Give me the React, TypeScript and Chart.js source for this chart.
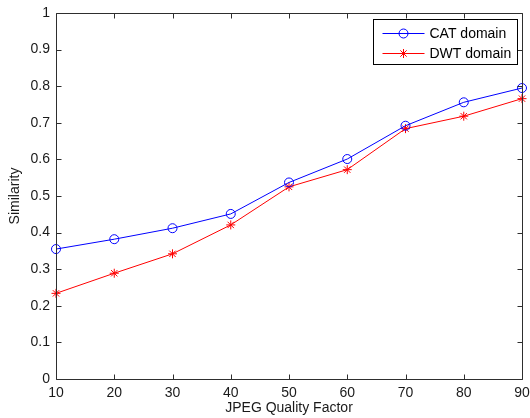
import React, { useEffect, useRef } from "react";
import { Chart, registerables } from "chart.js";

Chart.register(...registerables);

const qualityFactors = [10, 20, 30, 40, 50, 60, 70, 80, 90];
const catDomain = [0.355, 0.382, 0.412, 0.451, 0.537, 0.601, 0.692, 0.756, 0.795];
const dwtDomain = [0.234, 0.289, 0.342, 0.421, 0.525, 0.572, 0.684, 0.718, 0.766];
const seriesLabels = ["CAT domain", "DWT domain"];
const seriesColors = ["#0000ff", "#ff0000"];
const seriesMarkers = ["circle", "star"];
const xTicks = [10, 20, 30, 40, 50, 60, 70, 80, 90];
const yTicks = [0, 0.1, 0.2, 0.3, 0.4, 0.5, 0.6, 0.7, 0.8, 0.9, 1];
const xTitle = "JPEG Quality Factor";
const yTitle = "Similarity";

const FONT = "'Liberation Sans', Arial, Helvetica, sans-serif";
const AXIS_COLOR = "#2e2e2e";

function drawMarker(ctx: CanvasRenderingContext2D, style: string, x: number, y: number, r: number) {
  ctx.beginPath();
  if (style === "circle") {
    ctx.arc(x, y, r, 0, Math.PI * 2);
  } else {
    ctx.moveTo(x - r, y);
    ctx.lineTo(x + r, y);
    ctx.moveTo(x, y - r);
    ctx.lineTo(x, y + r);
    const d = r * Math.SQRT1_2;
    ctx.moveTo(x - d, y - d);
    ctx.lineTo(x + d, y + d);
    ctx.moveTo(x - d, y + d);
    ctx.lineTo(x + d, y - d);
  }
  ctx.stroke();
}

const framePlugin = {
  id: "matlabFrame",
  afterDatasetsDraw(chart: any) {
    const { ctx, chartArea } = chart;
    const { left, right, top, bottom } = chartArea;
    const xs = chart.scales.x;
    const ys = chart.scales.y;
    const L = Math.round(left) + 0.5;
    const R = Math.round(right) + 0.5;
    const T = Math.round(top) + 0.5;
    const B = Math.round(bottom) + 0.5;
    ctx.save();
    ctx.strokeStyle = AXIS_COLOR;
    ctx.lineWidth = 1;
    ctx.beginPath();
    ctx.rect(L, T, R - L, B - T);
    ctx.stroke();
    const tl = 5;
    ctx.beginPath();
    xTicks.forEach((v) => {
      const px = Math.round(xs.getPixelForValue(v)) + 0.5;
      ctx.moveTo(px, B);
      ctx.lineTo(px, B - tl);
      ctx.moveTo(px, T);
      ctx.lineTo(px, T + tl);
    });
    yTicks.forEach((v) => {
      const py = Math.round(ys.getPixelForValue(v)) + 0.5;
      ctx.moveTo(L, py);
      ctx.lineTo(L + tl, py);
      ctx.moveTo(R, py);
      ctx.lineTo(R - tl, py);
    });
    ctx.stroke();

    // legend box
    const bx = Math.round(right) - 149 + 0.5;
    const by = Math.round(top) + 6 + 0.5;
    const bw = 144;
    const bh = 45;
    ctx.fillStyle = "#ffffff";
    ctx.fillRect(bx, by, bw, bh);
    ctx.strokeStyle = "#000000";
    ctx.strokeRect(bx, by, bw, bh);
    ctx.font = `14px ${FONT}`;
    ctx.textBaseline = "middle";
    ctx.textAlign = "left";
    seriesLabels.forEach((label, i) => {
      const cy = Math.round(by + 13 + i * 20) + 0.5;
      ctx.strokeStyle = seriesColors[i];
      ctx.lineWidth = 1;
      ctx.beginPath();
      ctx.moveTo(bx + 9, cy);
      ctx.lineTo(bx + 51, cy);
      ctx.stroke();
      drawMarker(ctx, seriesMarkers[i], bx + 30, cy, 4.5);
      ctx.fillStyle = "#000000";
      ctx.fillText(label, bx + 56, cy + 1);
    });
    ctx.restore();
  },
};

export default function App() {
  const canvasRef = useRef<HTMLCanvasElement | null>(null);

  useEffect(() => {
    const canvas = canvasRef.current;
    if (!canvas) return;
    const chart = new Chart(canvas, {
      type: "line",
      data: {
        datasets: [catDomain, dwtDomain].map((vals, i) => ({
          label: seriesLabels[i],
          data: qualityFactors.map((q, j) => ({ x: q, y: vals[j] })),
          borderColor: seriesColors[i],
          backgroundColor: "rgba(0,0,0,0)",
          borderWidth: 1,
          pointStyle: seriesMarkers[i] as any,
          pointRadius: 4.5,
          pointBorderWidth: 1,
          pointBorderColor: seriesColors[i],
          pointBackgroundColor: "rgba(0,0,0,0)",
          tension: 0,
          clip: false as any,
        })),
      },
      options: {
        responsive: false,
        animation: false,
        events: [],
        layout: { padding: { top: 13, right: 8, left: 0, bottom: 0 } },
        plugins: {
          legend: { display: false },
          tooltip: { enabled: false },
        },
        scales: {
          x: {
            type: "linear",
            min: 10,
            max: 90,
            afterBuildTicks: (s: any) => {
              s.ticks = xTicks.map((v) => ({ value: v }));
            },
            afterFit: (s: any) => {
              s.height = 39;
              s.paddingLeft = 0;
              s.paddingRight = 0;
            },
            grid: { display: false, drawTicks: false },
            border: { display: false },
            ticks: {
              padding: 6,
              color: "#1a1a1a",
              font: { family: FONT, size: 14 },
              maxRotation: 0,
              autoSkip: false,
            },
            title: {
              display: true,
              text: xTitle,
              color: "#1a1a1a",
              font: { family: FONT, size: 14 },
              padding: { top: 0, bottom: 1 },
            },
          },
          y: {
            type: "linear",
            min: 0,
            max: 1,
            afterBuildTicks: (s: any) => {
              s.ticks = yTicks.map((v) => ({ value: v }));
            },
            afterFit: (s: any) => {
              s.width = 56;
              s.paddingTop = 0;
              s.paddingBottom = 0;
            },
            grid: { display: false, drawTicks: false },
            border: { display: false },
            ticks: {
              padding: 6,
              color: "#1a1a1a",
              font: { family: FONT, size: 14 },
              autoSkip: false,
              callback: (v: any) => String(Math.round(Number(v) * 10) / 10),
            },
            title: {
              display: true,
              text: yTitle,
              color: "#1a1a1a",
              font: { family: FONT, size: 14 },
              padding: { top: 7, bottom: 0 },
            },
          },
        },
      },
      plugins: [framePlugin],
    });
    return () => chart.destroy();
  }, []);

  return (
    <div style={{ position: "absolute", left: 0, top: 0, width: 530, height: 418, background: "#ffffff" }}>
      <canvas ref={canvasRef} width={530} height={418} />
    </div>
  );
}
